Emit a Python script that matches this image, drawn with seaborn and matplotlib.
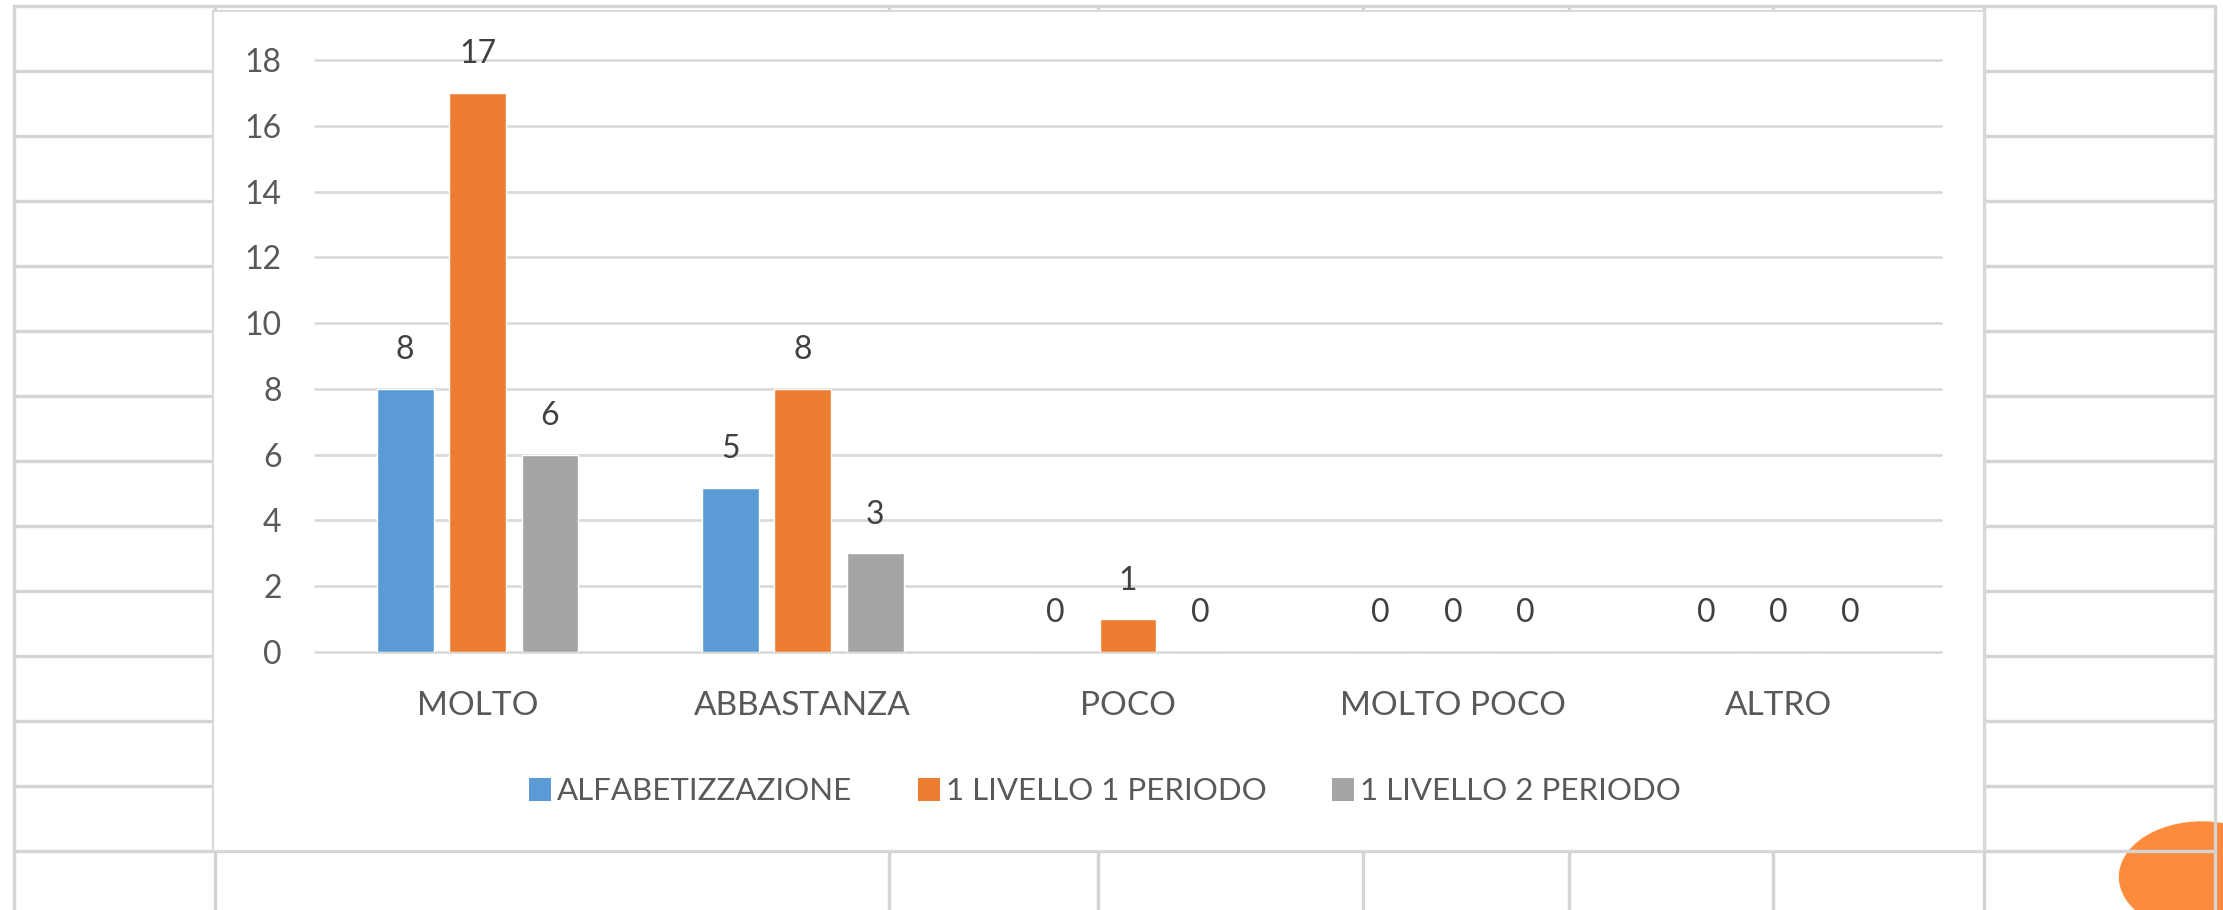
import numpy as np
import pandas as pd
import matplotlib
matplotlib.use("Agg")
import matplotlib.pyplot as plt
from matplotlib.patches import Rectangle, Ellipse, Patch
import seaborn as sns

# Data
categories = ["MOLTO", "ABBASTANZA", "POCO", "MOLTO POCO", "ALTRO"]
series = ["ALFABETIZZAZIONE", "1 LIVELLO 1 PERIODO", "1 LIVELLO 2 PERIODO"]
alfabetizzazione = [8, 5, 0, 0, 0]
livello1_periodo1 = [17, 8, 1, 0, 0]
livello1_periodo2 = [6, 3, 0, 0, 0]
y_ticks = [0, 2, 4, 6, 8, 10, 12, 14, 16, 18]

colors = ["#5B9BD5", "#ED7D31", "#A5A5A5"]

df = pd.DataFrame({
    "categoria": categories * 3,
    "serie": np.repeat(series, len(categories)),
    "valore": alfabetizzazione + livello1_periodo1 + livello1_periodo2,
})

sns.set_theme(style="white")
plt.rcParams["font.family"] = ["Lato", "DejaVu Sans"]

W, H = 2223, 910
fig = plt.figure(figsize=(W / 100, H / 100), dpi=100)

# Spreadsheet background (pixel coordinates)
bg = fig.add_axes([0, 0, 1, 1])
bg.set_xlim(0, W)
bg.set_ylim(H, 0)
bg.axis("off")

bg.add_patch(Ellipse((2202, 877), 165, 110, color="#FD8B3C", zorder=0))

cell_color = "#D4D4D4"
for y in range(6, 860, 65):
    bg.plot([14, 2215], [y, y], color=cell_color, lw=2.4, zorder=1)
for x in [14, 215, 889, 1098, 1363, 1569, 1773, 1984, 2215]:
    bg.plot([x, x], [6, H], color=cell_color, lw=2.4, zorder=1)

# Chart area
bg.add_patch(Rectangle((213, 11), 1984 - 213, 851 - 11, facecolor="white",
                       edgecolor="#D9D9D9", lw=1.5, zorder=2))

# Plot area
left, right, top, bottom = 315, 1941, 60, 652
ax = fig.add_axes([left / W, 1 - bottom / H, (right - left) / W, (bottom - top) / H])
ax.patch.set_alpha(0)

for t in y_ticks:
    ax.axhline(t, color="#D9D9D9", lw=1.9, zorder=0, clip_on=False)

sns.barplot(
    data=df, x="categoria", y="valore", hue="serie",
    palette=colors, saturation=1, width=0.668, gap=0.216,
    legend=False, ax=ax, zorder=2,
)

for container in ax.containers:
    ax.bar_label(container, fmt="%d", padding=17, fontsize=23, color="#404040")

ax.set_xlim(-0.5, 4.5)
ax.set_ylim(0, 18)
ax.set_yticks(y_ticks)
ax.set_xlabel("")
ax.set_ylabel("")
for s in ax.spines.values():
    s.set_visible(False)
ax.tick_params(axis="y", length=0, pad=24, labelsize=23, labelcolor="#595959")
ax.tick_params(axis="x", length=0, pad=28, labelsize=24, labelcolor="#595959")

handles = [Patch(facecolor=c, edgecolor="none") for c in colors]
fig.legend(
    handles, series, loc="center", bbox_to_anchor=(1105 / W, 1 - 791 / H),
    ncol=3, frameon=False, fontsize=22.5, labelcolor="#595959",
    handlelength=0.7, handleheight=0.75, handletextpad=0.2, columnspacing=2.1,
)

fig.savefig("out.png", dpi=100)
